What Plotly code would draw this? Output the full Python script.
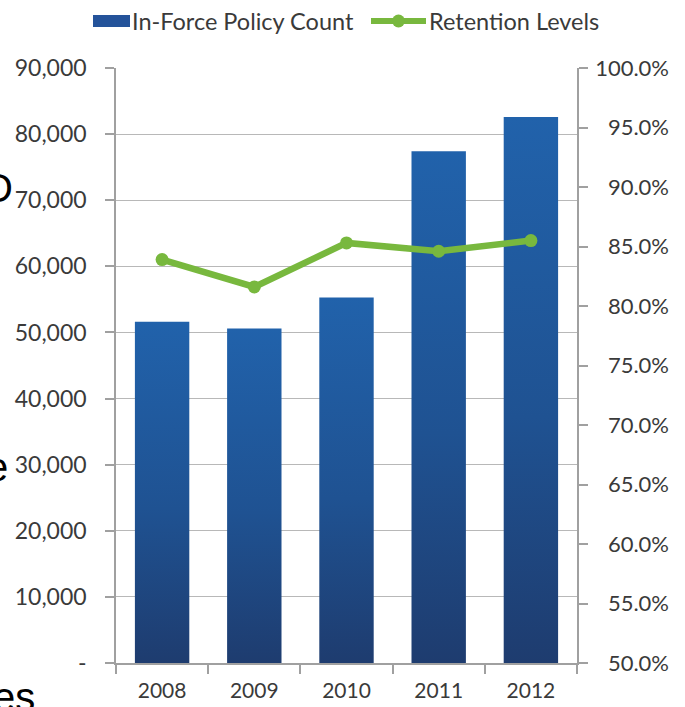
import plotly.graph_objects as go

# Data
years = ["2008", "2009", "2010", "2011", "2012"]
policy_count = [51600, 50600, 55300, 77400, 82600]
retention = [0.839, 0.816, 0.853, 0.846, 0.855]

count_ticks = [0, 10000, 20000, 30000, 40000, 50000, 60000, 70000, 80000, 90000]
count_labels = ["-", "10,000", "20,000", "30,000", "40,000", "50,000",
                "60,000", "70,000", "80,000", "90,000"]
pct_ticks = [0.50, 0.55, 0.60, 0.65, 0.70, 0.75, 0.80, 0.85, 0.90, 0.95, 1.00]

FONT = "Lato, 'Open Sans', sans-serif"
TXT = "#3a3a3a"
GRID = "#b8b8b8"
AXIS = "#a0a0a0"
BAR_DARK = "#1e3c6f"
BAR_MID = "#1f5292"
BAR_LIGHT = "#2162ab"
GREEN = "#78b83e"

W, H = 685, 707
ML, MR, MT, MB = 116, 108, 68, 44
PW, PH = W - ML - MR, H - MT - MB

half = 0.295  # half bar width in category units
xs = list(range(len(years)))


def px_x(p):
    return (p - ML) / PW


def px_y(p):
    return (H - MB - p) / PH


fig = go.Figure()

# Bars drawn as filled shapes so each one carries its own vertical gradient
for i, v in enumerate(policy_count):
    fig.add_trace(go.Scatter(
        x=[i - half, i - half, i + half, i + half, i - half],
        y=[0, v, v, 0, 0],
        mode="lines",
        fill="toself",
        fillcolor=BAR_MID,
        fillgradient=dict(type="vertical",
                          colorscale=[[0, BAR_DARK], [0.45, BAR_MID], [1, BAR_LIGHT]]),
        line=dict(width=0, color=BAR_MID),
        name="In-Force Policy Count",
        showlegend=False,
        hoverinfo="skip",
    ))

fig.add_trace(go.Scatter(
    x=xs, y=retention, yaxis="y2",
    mode="lines+markers",
    line=dict(color=GREEN, width=6.5),
    marker=dict(color=GREEN, size=13),
    name="Retention Levels",
    showlegend=False,
))

# Legend row drawn by hand above the plot
LEG_Y = 21
shapes = [
    dict(type="rect", xref="paper", yref="paper",
         x0=px_x(93), x1=px_x(130), y0=px_y(27), y1=px_y(15),
         fillcolor="#24539a", line=dict(width=0)),
    dict(type="line", xref="paper", yref="paper",
         x0=px_x(371), x1=px_x(426), y0=px_y(LEG_Y), y1=px_y(LEG_Y),
         line=dict(color=GREEN, width=6)),
    dict(type="circle", xref="paper", yref="paper",
         x0=px_x(392), x1=px_x(405), y0=px_y(LEG_Y + 6.5), y1=px_y(LEG_Y - 6.5),
         fillcolor=GREEN, line=dict(width=0)),
]

legend_text = [("In-Force Policy Count", 130), ("Retention Levels", 427)]
annotations = [
    dict(text=t, x=px_x(x0), y=px_y(LEG_Y), xref="paper", yref="paper",
         xanchor="left", yanchor="middle", showarrow=False,
         font=dict(family=FONT, size=23.5, color=TXT))
    for t, x0 in legend_text
]

# Slide text partly hidden behind the chart
slide_text = [("D", -18, 188), ("e", -16, 467), ("es", -9, 697)]
annotations += [
    dict(text=t, x=px_x(x0), y=px_y(yc), xref="paper", yref="paper",
         xanchor="left", yanchor="middle", showarrow=False,
         font=dict(family="Liberation Sans, Arial, sans-serif", size=40, color="#000000"))
    for t, x0, yc in slide_text
]

fig.update_layout(
    width=W, height=H,
    margin=dict(l=ML, r=MR, t=MT, b=MB, pad=0, autoexpand=False),
    paper_bgcolor="white", plot_bgcolor="white",
    font=dict(family=FONT, size=21, color=TXT),
    showlegend=False,
    xaxis=dict(range=[-0.5, len(years) - 0.5], tickvals=xs, ticktext=years,
               ticks="", showline=True, linecolor=AXIS, linewidth=1.5,
               showgrid=False, zeroline=False, fixedrange=True, automargin=False,
               tickfont=dict(size=21), ticklabelstandoff=8,
               minor=dict(tickvals=[i - 0.5 for i in range(len(years) + 1)],
                          ticks="outside", ticklen=9, tickwidth=1.5, tickcolor=AXIS,
                          showgrid=False)),
    yaxis=dict(range=[0, 90000], tickvals=count_ticks, ticktext=count_labels,
               ticks="outside", ticklen=9, tickwidth=1.5, tickcolor=AXIS,
               showline=True, linecolor=AXIS, linewidth=1.5, automargin=False,
               showgrid=True, gridcolor=GRID, gridwidth=1.2, zeroline=False,
               tickfont=dict(size=23), ticklabelstandoff=14),
    yaxis2=dict(range=[0.5, 1.0], overlaying="y", side="right",
                tickvals=pct_ticks,
                ticktext=[("" if p >= 0.995 else "\u2007") + f"{p*100:.1f}%" for p in pct_ticks],
                ticks="outside", ticklen=9, tickwidth=1.5, tickcolor=AXIS,
                showline=True, linecolor=AXIS, linewidth=1.5, automargin=False,
                showgrid=False, zeroline=False,
                tickfont=dict(size=22), ticklabelstandoff=3),
    shapes=shapes,
    annotations=annotations,
)

fig.write_html("out.html")
